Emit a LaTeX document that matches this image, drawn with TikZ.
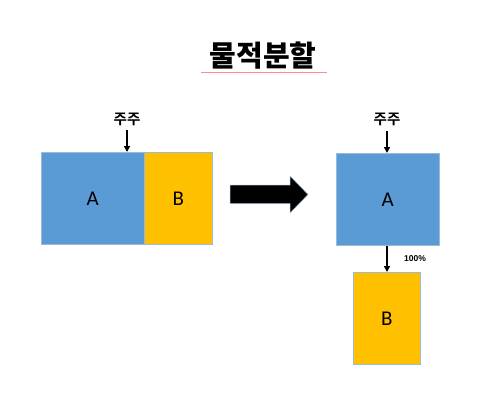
\documentclass[tikz,border=0pt]{standalone}
\usepackage{fontspec}
\setmainfont{Carlito}
\newfontfamily\kr{Noto Sans CJK KR}[BoldFont={* Bold}]
\newfontfamily\krheavy{Noto Sans CJK KR Black}
\newfontfamily\arial{Liberation Sans}
\usetikzlibrary{arrows.meta}
\definecolor{boxblue}{HTML}{5B9BD5}
\definecolor{boxorange}{HTML}{FFC000}
\definecolor{edge}{HTML}{9DB9D8}
\begin{document}
\begin{tikzpicture}[x=1pt,y=-1pt,
  boxa/.style={draw=edge,line width=0.6pt,fill=boxblue,anchor=north west,inner sep=0pt,font=\fontsize{21}{21}\selectfont},
  boxb/.style={draw=edge,line width=0.6pt,fill=boxorange,anchor=north west,inner sep=0pt,font=\fontsize{21}{21}\selectfont},
  holder/.style={font=\kr\bfseries\fontsize{14.5}{14.5}\selectfont,inner sep=0pt},
  flow/.style={-{Triangle[length=6pt,width=6pt]},line width=1.6pt}]
\useasboundingbox (0,0) rectangle (504,404);
% title
\node[font=\krheavy\fontsize{29}{29}\selectfont,inner sep=0pt] (title) at (263,56) {물적분할};
\draw[red!45,line width=0.6pt] (201,72.5) -- (327,72.5);
% left
\node[boxa,minimum width=103pt,minimum height=92pt] (la) at (41,152) {A};
\node[boxb,minimum width=68pt,minimum height=92pt] (lb) at (144,152) {B};
\node[holder] (lh) at (127,119) {주주};
\coordinate (lt) at (127,152);
\draw[flow] (127,130) -- (lt);
% big arrow
\draw[edge,line width=0.5pt,fill=black] (230,185) -- (290,185) -- (290,176) -- (308,194.5) -- (290,213) -- (290,203.5) -- (230,203.5) -- cycle;
% right
\node[boxa,minimum width=103pt,minimum height=92pt] (ra) at (336,153) {A};
\node[boxb,minimum width=67pt,minimum height=92pt] (rb) at (353,272) {B};
\node[holder] (rh) at (387,119) {주주};
\coordinate (rt) at (387,153);
\draw[flow] (387,131) -- (rt);
\draw[flow] (ra.south -| rt) -- (rb.north -| rt);
\node[font=\arial\bfseries\fontsize{8.5}{8.5}\selectfont,inner sep=0pt] (pct) at (415,259) {100\%};
\end{tikzpicture}
\end{document}
